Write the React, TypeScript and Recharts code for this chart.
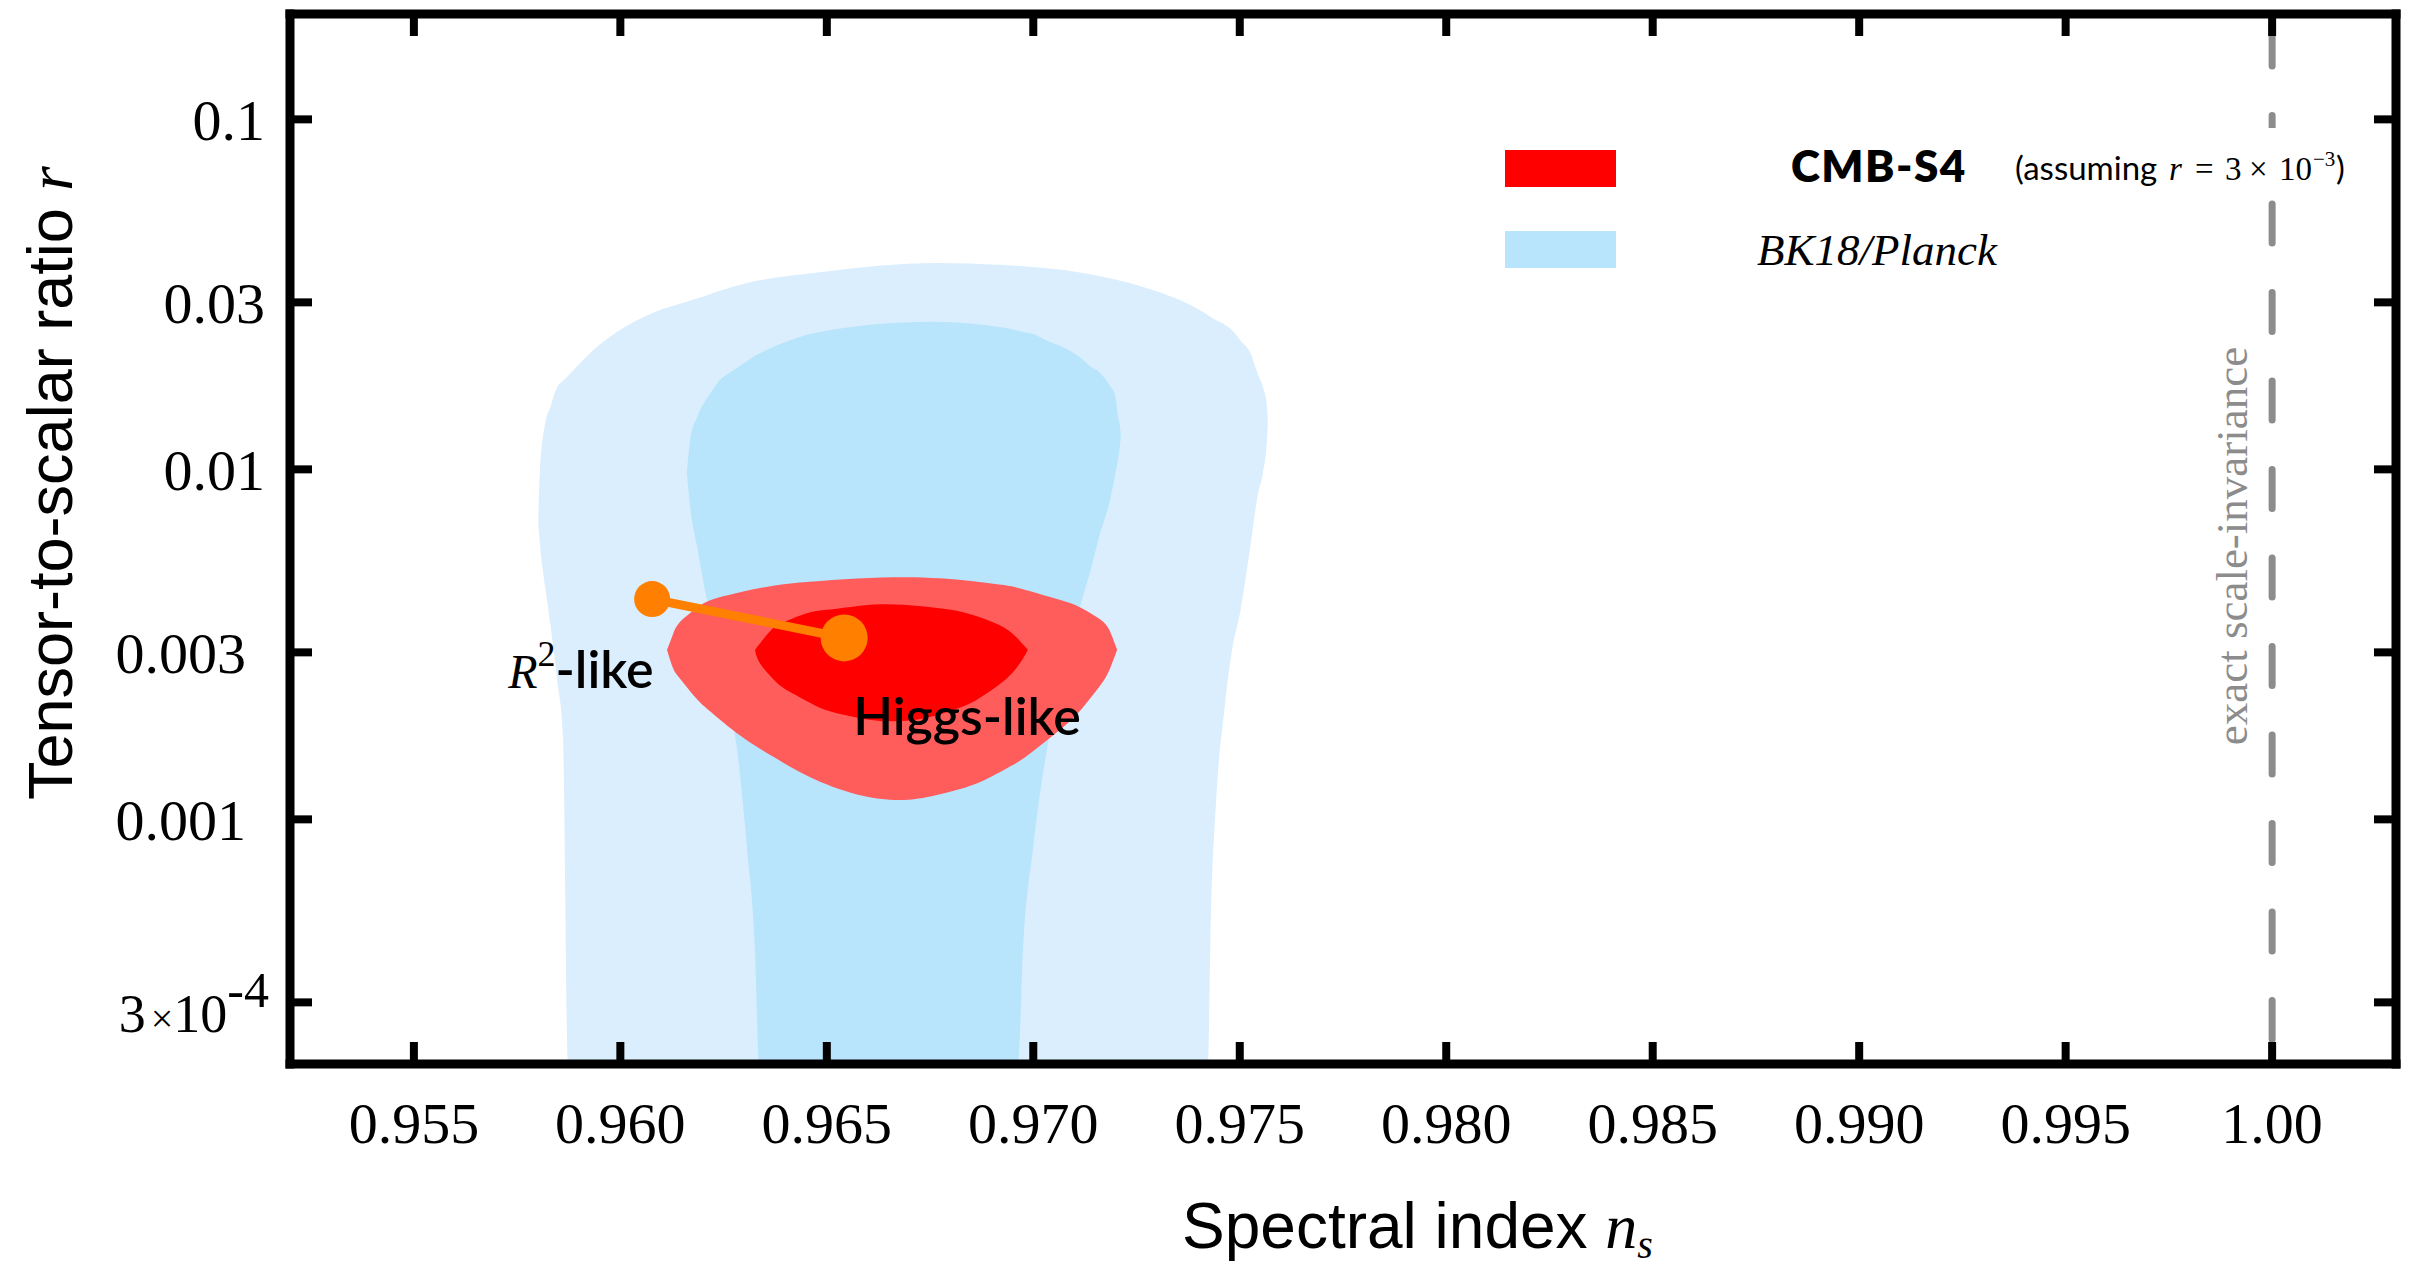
import React from 'react';
import { ComposedChart, Area, Line, XAxis, YAxis, ReferenceLine, Legend } from 'recharts';

// ---------- data ----------
// BK18/Planck outer (95%) region: n_s samples with lower / upper r bounds
const bkOuterNs = [0.95801, 0.95805, 0.95818, 0.9583, 0.95847, 0.95861, 0.95873, 0.95934, 0.95999, 0.96079, 0.96161, 0.96307, 0.96483, 0.96767, 0.96919, 0.9712, 0.97266, 0.97404, 0.97423, 0.9743, 0.97442, 0.97464, 0.97481, 0.97501, 0.97525, 0.97544, 0.97556, 0.97566, 0.97568];
const bkOuterLow = [0.00703, 0.00616, 0.00461, 0.00364, 0.0025, 0.00172, 0.0002, 0.0002, 0.0002, 0.0002, 0.0002, 0.0002, 0.0002, 0.0002, 0.0002, 0.0002, 0.0002, 0.0002, 0.0002, 0.000526, 0.00109, 0.00212, 0.00303, 0.00391, 0.00596, 0.0085, 0.00976, 0.01213, 0.01356];
const bkOuterHigh = [0.00703, 0.00976, 0.01356, 0.01498, 0.01719, 0.01788, 0.01848, 0.0219, 0.025, 0.028, 0.0301, 0.0341, 0.0366, 0.0389, 0.0384, 0.0364, 0.0332, 0.0285, 0.0276, 0.0272, 0.0267, 0.0259, 0.025, 0.0234, 0.0216, 0.0187, 0.0172, 0.0151, 0.01356];

// BK18/Planck inner (68%) region
const bkInnerNs = [0.96161, 0.96169, 0.96186, 0.9621, 0.96222, 0.96241, 0.96253, 0.96282, 0.96307, 0.96326, 0.96336, 0.96483, 0.9675, 0.96919, 0.96963, 0.96975, 0.96999, 0.97033, 0.97077, 0.97113, 0.97137, 0.97162, 0.97186, 0.97198, 0.97205, 0.9721, 0.97212];
const bkInnerLow = [0.00976, 0.00781, 0.006, 0.00423, 0.00371, 0.00291, 0.0025, 0.00161, 0.000818, 0.000423, 0.0002, 0.0002, 0.0002, 0.0002, 0.0002, 0.000423, 0.000818, 0.00158, 0.0025, 0.00404, 0.00506, 0.00658, 0.00818, 0.00964, 0.01064, 0.01174, 0.01245];
const bkInnerHigh = [0.00976, 0.01213, 0.01411, 0.01599, 0.01675, 0.018, 0.01848, 0.01948, 0.0204, 0.0211, 0.0214, 0.0247, 0.0264, 0.0255, 0.0249, 0.0247, 0.0244, 0.0233, 0.0222, 0.0209, 0.01974, 0.01885, 0.0173, 0.01631, 0.0142, 0.01321, 0.01245];

// CMB-S4 forecast (assuming r = 3e-3), outer region
const s4OuterNs = [0.96113, 0.96128, 0.96137, 0.96186, 0.9621, 0.9629, 0.9637, 0.96452, 0.96573, 0.96694, 0.96774, 0.96854, 0.96936, 0.96975, 0.9704, 0.97096, 0.97142, 0.97179, 0.97193, 0.97203];
const s4OuterLow = [0.00305, 0.00267, 0.00259, 0.00219, 0.00207, 0.00172, 0.00151, 0.00132, 0.00116, 0.00112, 0.00118, 0.00124, 0.0014, 0.00148, 0.00171, 0.00192, 0.00225, 0.00255, 0.00284, 0.00305];
const s4OuterHigh = [0.00305, 0.00339, 0.00364, 0.00402, 0.00423, 0.00446, 0.00467, 0.00477, 0.00489, 0.00493, 0.00489, 0.0048, 0.00467, 0.00455, 0.00432, 0.00415, 0.00386, 0.00364, 0.00328, 0.00305];

// CMB-S4 forecast, inner region
const s4InnerNs = [0.96326, 0.96333, 0.9637, 0.96387, 0.96452, 0.96491, 0.96556, 0.96629, 0.96733, 0.96815, 0.96854, 0.96936, 0.96968, 0.96987];
const s4InnerLow = [0.00305, 0.0028, 0.00252, 0.00239, 0.00218, 0.00205, 0.00197, 0.00189, 0.00192, 0.00207, 0.00215, 0.0025, 0.00278, 0.00305];
const s4InnerHigh = [0.00305, 0.00313, 0.00355, 0.00362, 0.00391, 0.00396, 0.00404, 0.00415, 0.00407, 0.00396, 0.00384, 0.00355, 0.00323, 0.00305];

// Model predictions
const modelNames = ['R²-like', 'Higgs-like'];
const modelNs = [0.96077, 0.96542];
const modelR = [0.00426, 0.0033];

// Exact scale invariance
const scaleInvariantNs = 1.0;

// Axes
const nsDomain = [0.952, 1.003];
const rDomain = [0.0002, 0.2];
const nsTicks = [0.955, 0.96, 0.965, 0.97, 0.975, 0.98, 0.985, 0.99, 0.995, 1.0];
const nsTickLabels = ['0.955', '0.960', '0.965', '0.970', '0.975', '0.980', '0.985', '0.990', '0.995', '1.00'];
const rTicks = [0.0003, 0.001, 0.003, 0.01, 0.03, 0.1];
const rTickLabels = ['3×10^-4', '0.001', '0.003', '0.01', '0.03', '0.1'];

// Legend entries
const legendNames = ['CMB-S4', 'BK18/Planck'];
const legendNote = 'assuming';

// ---------- tables built for the library ----------
const toBand = (ns: number[], lo: number[], hi: number[]) =>
  ns.map((n, i) => ({ ns: n, band: [lo[i], hi[i]] }));

const bkOuter = toBand(bkOuterNs, bkOuterLow, bkOuterHigh);
const bkInner = toBand(bkInnerNs, bkInnerLow, bkInnerHigh);
const s4Outer = toBand(s4OuterNs, s4OuterLow, s4OuterHigh);
const s4Inner = toBand(s4InnerNs, s4InnerLow, s4InnerHigh);
const models = modelNs.map((n, i) => ({ ns: n, r: modelR[i], name: modelNames[i] }));

// ---------- styles ----------
const SERIF = '"Liberation Serif", "Times New Roman", serif';
const SANS = '"Liberation Sans", Arial, sans-serif';
const GEO = 'Lato, "Open Sans", sans-serif';

const C_BK_OUTER = '#dbeefd';
const C_BK_INNER = '#b8e5fc';
const C_S4_OUTER = '#ff5c5c';
const C_S4_INNER = '#ff0000';
const C_MODEL = '#ff8000';
const C_GRAY = '#8c8c8c';

const W = 2413;
const H = 1266;
const FRAME = { stroke: '#000', strokeWidth: 9, strokeLinecap: 'square' as const };
const TICK = { stroke: '#000', strokeWidth: 8 };
const Y_TICK_SHIFT = [4, -19, -19, 0, 0, 0];
const MODEL_DOT_RADII = [18, 23.5];
const MODEL_LABEL_OFFSET = [[-144, 89], [9, 97]];

const XTick = (props: any) => {
  const { x, y, payload } = props;
  const i = nsTicks.indexOf(payload.value);
  return (
    <text x={x} y={y} dy="0.71em" textAnchor="middle" fontFamily={SERIF} fontSize={58} fill="#000">
      {nsTickLabels[i]}
    </text>
  );
};

const YTick = (props: any) => {
  const { x, y, payload } = props;
  const i = rTicks.indexOf(payload.value);
  const label = rTickLabels[i] || '';
  const tx = x + (Y_TICK_SHIFT[i] || 0);
  if (label.includes('^')) {
    const [mant, exp] = label.split('^');
    const [lead, base] = mant.split('×');
    return (
      <text x={tx} y={y} textAnchor="end" fontFamily={SERIF} fill="#000">
        <tspan fontSize={54} dy={30}>{lead}</tspan>
        <tspan fontSize={40} dx={5}>×</tspan>
        <tspan fontSize={54}>{base}</tspan>
        <tspan fontSize={50} dy={-25}>{exp}</tspan>
      </text>
    );
  }
  return (
    <text x={tx} y={y} dy="0.355em" textAnchor="end" fontFamily={SERIF} fontSize={58} fill="#000">
      {label}
    </text>
  );
};

const EmptyTick = () => <g />;

const renderModelDot = (p: any) => (
  <circle key={`model-dot-${p.index}`} cx={p.cx} cy={p.cy} r={MODEL_DOT_RADII[p.index]} fill={C_MODEL} />
);

const renderModelLabel = (p: any) => {
  const i = p.index;
  const px = p.x ?? p.viewBox?.x;
  const py = p.y ?? p.viewBox?.y;
  const [dx, dy] = MODEL_LABEL_OFFSET[i];
  const name = modelNames[i];
  if (name.startsWith('R²')) {
    return (
      <text key={`model-label-${i}`} x={px + dx} y={py + dy} fill="#000">
        <tspan fontFamily={SERIF} fontStyle="italic" fontSize={48}>R</tspan>
        <tspan fontFamily={SERIF} fontSize={36} dy={-22}>2</tspan>
        <tspan fontFamily={GEO} fontWeight={600} fontSize={52} dy={22}>{name.slice(2)}</tspan>
      </text>
    );
  }
  return (
    <text key={`model-label-${i}`} x={px + dx} y={py + dy} fontFamily={GEO} fontWeight={600} fontSize={52} fill="#000">
      {name}
    </text>
  );
};

const renderScaleLabel = () => (
  <text
    transform="translate(2247,546) rotate(-90)"
    textAnchor="middle"
    fontFamily={SERIF}
    fontSize={45}
    fill={C_GRAY}
  >
    exact scale-invariance
  </text>
);

const renderLegend = () => (
  <svg width={890} height={170} style={{ overflow: 'visible', display: 'block' }}>
    <rect x={507} y={10} width={370} height={72} fill="#fff" />
    <rect x={7} y={32} width={111} height={37} fill={C_S4_INNER} />
    <text x={293} y={64} fontFamily={GEO} fontWeight={800} fontSize={44} letterSpacing={1.5} fill="#000">
      {legendNames[0]}
    </text>
    <text y={62} fill="#000" fontSize={33}>
      <tspan x={517} fontFamily={GEO}>({legendNote}</tspan>
      <tspan x={671} fontFamily={SERIF} fontStyle="italic">r</tspan>
      <tspan x={697} fontFamily={SERIF}>=</tspan>
      <tspan x={727} fontFamily={SERIF}>3</tspan>
      <tspan x={751} fontFamily={SERIF}>×</tspan>
      <tspan x={781} fontFamily={SERIF}>10</tspan>
      <tspan x={815} fontFamily={SERIF} fontSize={21} dy={-14}>−3</tspan>
      <tspan x={838} fontFamily={GEO} dy={14}>)</tspan>
    </text>
    <rect x={7} y={113} width={111} height={37} fill={C_BK_INNER} />
    <text x={259} y={147} fontFamily={SERIF} fontStyle="italic" fontSize={45} fill="#000">
      {legendNames[1]}
    </text>
  </svg>
);

const renderYTitle = () => (
  <text transform="translate(72,800) rotate(-90)" fontFamily={SANS} fontSize={63} fill="#000">
    Tensor-to-scalar ratio{' '}
    <tspan fontFamily={SERIF} fontStyle="italic">r</tspan>
  </text>
);

const renderXTitle = () => (
  <text x={1182} y={1248} fontFamily={SANS} fontSize={64} fill="#000">
    Spectral index{' '}
    <tspan fontFamily={SERIF} fontStyle="italic">n</tspan>
    <tspan fontFamily={SERIF} fontStyle="italic" fontSize={40} dy={10}>s</tspan>
  </text>
);

export default function App() {
  return (
    <div style={{ position: 'absolute', left: 0, top: 0, width: W, height: H, background: '#fff' }}>
      <ComposedChart width={W} height={H} margin={{ top: 13, right: 16, bottom: 82, left: 90 }}>
        <Area data={bkOuter} dataKey="band" type="monotone" fill={C_BK_OUTER} fillOpacity={1} stroke="none" isAnimationActive={false} activeDot={false} />
        <Area data={bkInner} dataKey="band" type="monotone" fill={C_BK_INNER} fillOpacity={1} stroke="none" isAnimationActive={false} activeDot={false} />
        <Area data={s4Outer} dataKey="band" type="basis" fill={C_S4_OUTER} fillOpacity={1} stroke="none" isAnimationActive={false} activeDot={false} />
        <Area data={s4Inner} dataKey="band" type="basis" fill={C_S4_INNER} fillOpacity={1} stroke="none" isAnimationActive={false} activeDot={false} />
        <Line
          data={models}
          dataKey="r"
          stroke={C_MODEL}
          strokeWidth={9}
          dot={renderModelDot}
          activeDot={false}
          label={renderModelLabel}
          isAnimationActive={false}
        />
        <ReferenceLine
          segment={[{ x: scaleInvariantNs, y: rDomain[0] }, { x: scaleInvariantNs, y: rDomain[1] }]}
          stroke={C_GRAY}
          strokeWidth={7}
          strokeDasharray="39 49.5"
          strokeDashoffset={64}
          strokeLinecap="round"
          label={renderScaleLabel}
          ifOverflow="visible"
        />
        <XAxis
          type="number"
          dataKey="ns"
          domain={nsDomain}
          allowDataOverflow
          ticks={nsTicks}
          interval={0}
          height={120}
          tickSize={-22}
          tickMargin={60}
          axisLine={FRAME}
          tickLine={TICK}
          tick={<XTick />}
          label={renderXTitle}
        />
        <XAxis
          xAxisId="top"
          orientation="top"
          type="number"
          dataKey="ns"
          domain={nsDomain}
          allowDataOverflow
          ticks={nsTicks}
          interval={0}
          height={1}
          tickSize={-22}
          axisLine={FRAME}
          tickLine={TICK}
          tick={<EmptyTick />}
        />
        <YAxis
          type="number"
          scale="log"
          domain={rDomain}
          allowDataOverflow
          ticks={rTicks}
          interval={0}
          width={200}
          tickSize={-22}
          tickMargin={47}
          axisLine={FRAME}
          tickLine={TICK}
          tick={<YTick />}
          label={renderYTitle}
        />
        <YAxis
          yAxisId="right"
          orientation="right"
          type="number"
          scale="log"
          domain={rDomain}
          allowDataOverflow
          ticks={rTicks}
          interval={0}
          width={1}
          tickSize={-22}
          axisLine={FRAME}
          tickLine={TICK}
          tick={<EmptyTick />}
        />
        <Legend
          layout="vertical"
          align="center"
          verticalAlign="middle"
          content={renderLegend}
          wrapperStyle={{ left: 1498, top: 118, width: 890, height: 170 }}
        />
      </ComposedChart>
    </div>
  );
}
